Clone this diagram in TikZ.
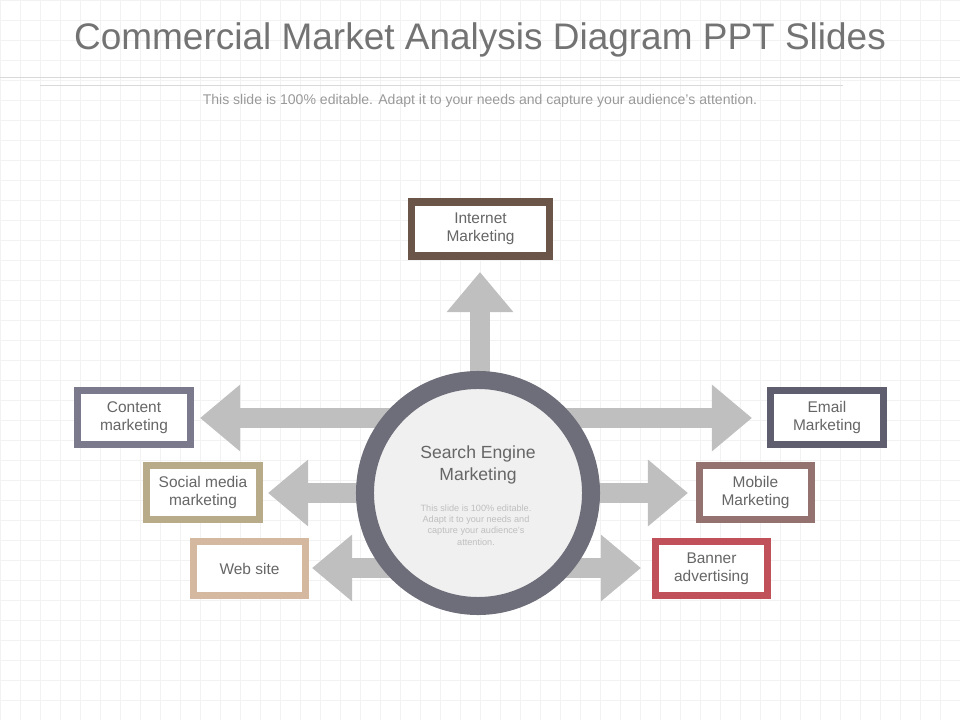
\documentclass[tikz,border=0pt]{standalone}
\usepackage{fontspec}
\setmainfont{Liberation Sans}
\usetikzlibrary{arrows.meta}
\definecolor{inetc}{HTML}{6B5548}
\definecolor{contc}{HTML}{7A7A8C}
\definecolor{socc}{HTML}{B8AB8A}
\definecolor{webc}{HTML}{D4B8A0}
\definecolor{mailc}{HTML}{5E5E6E}
\definecolor{mobc}{HTML}{937270}
\definecolor{banc}{HTML}{C0505A}
\definecolor{ringc}{HTML}{6E6E7A}

\begin{document}
\begin{tikzpicture}[x=0.025cm,y=-0.025cm,
  txt/.style={text=black!60,font=\fontsize{11}{12.5}\selectfont,align=center},
  tbox/.style={txt,draw=#1,line width=5pt,fill=white,minimum width=2.82cm,minimum height=1.35cm,inner sep=0pt},
  bigarrow/.style={draw=black!25,line width=0.5cm,-{Triangle[length=1cm,width=1.6cm]}}]
\useasboundingbox (0,0) rectangle (960,720);
% background grid
\draw[black!5,step=0.5cm] (0,0) grid (960,720);
\draw[black!15] (0,77) -- (960,77);
\draw[black!15] (40,85) -- (843,85);
\node[text=black!55,font=\fontsize{26.3}{30}\selectfont] (title) at (480,40) {Commercial Market Analysis Diagram PPT Slides};
\node[text=black!40,font=\fontsize{10}{11}\selectfont] (sub) at (480,101) {This slide is 100\% editable. Adapt it to your needs and capture your audience's attention.};
% arrows
\coordinate (c) at (478,493);
\draw[bigarrow] (480,493) -- (480,272);
\draw[bigarrow] (478,418) -- (200,418);
\draw[bigarrow] (478,493) -- (268,493);
\draw[bigarrow] (478,568) -- (312,568);
\draw[bigarrow] (478,418) -- (752,418);
\draw[bigarrow] (478,493) -- (688,493);
\draw[bigarrow] (478,568) -- (641,568);
% centre circle
\node[circle,draw=ringc,line width=0.45cm,fill=black!6,minimum size=5.65cm] (sem) at (c) {};
\node[text=black!60,font=\fontsize{12.5}{15}\selectfont,align=center] (semt) at (478,465) {Search Engine\\Marketing};
\node[text=black!25,font=\fontsize{6.5}{8}\selectfont,align=center] (semd) at (476,525) {This slide is 100\% editable.\\Adapt it to your needs and\\capture your audience's\\attention.};
% boxes
\node[tbox=inetc,minimum width=3.45cm] (inet) at (480.5,229) {Internet\\Marketing};
\node[tbox=contc] (cont) at (134,417.5) {Content\\marketing};
\node[tbox=socc] (soc) at (203,492.5) {Social media\\marketing};
\node[tbox=webc] (web) at (249.5,568.5) {Web site};
\node[tbox=mailc] (mail) at (827,417.5) {Email\\Marketing};
\node[tbox=mobc] (mob) at (755.5,492.5) {Mobile\\Marketing};
\node[tbox=banc] (ban) at (711.5,568.5) {Banner\\advertising};
\end{tikzpicture}
\end{document}
